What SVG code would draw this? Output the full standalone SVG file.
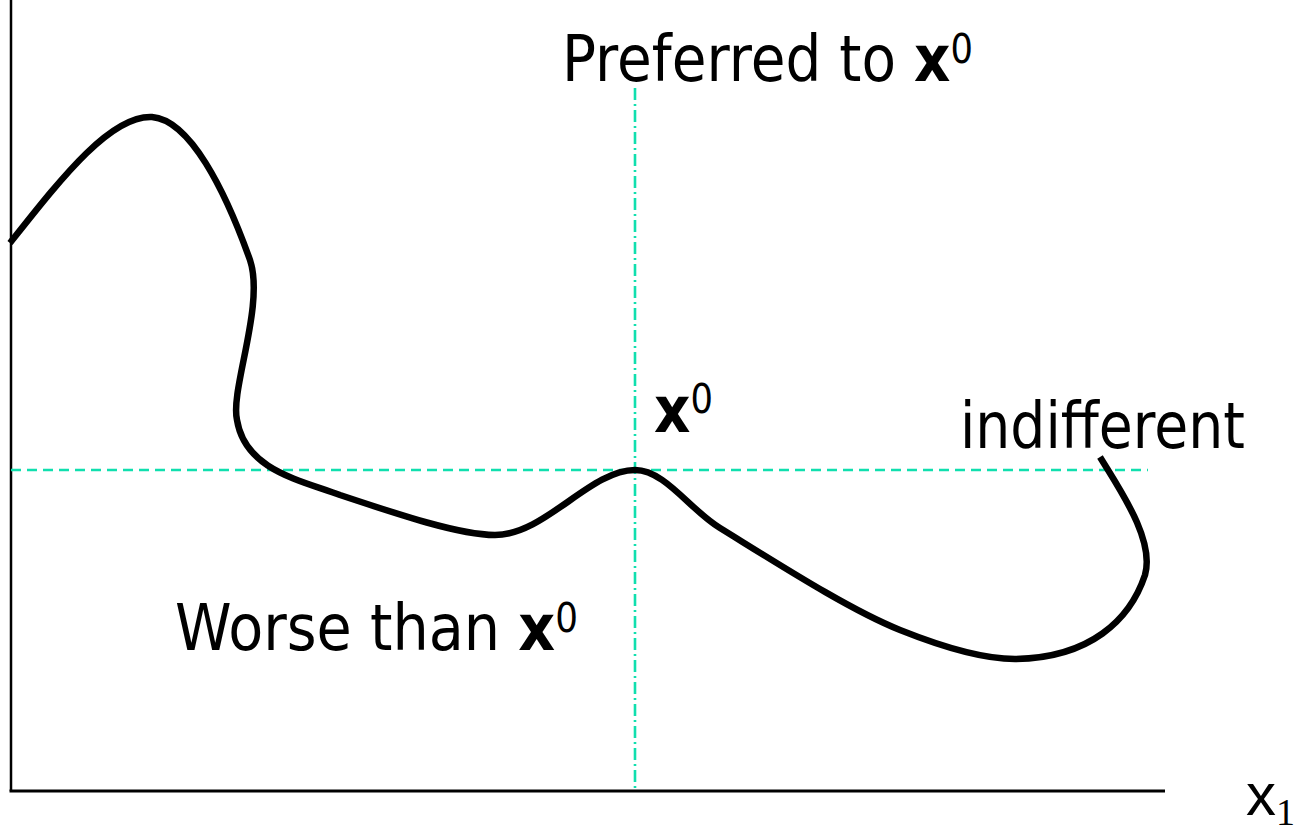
<svg xmlns="http://www.w3.org/2000/svg" width="1301" height="830" viewBox="0 0 1301 830">
<style>
.t{font-family:Tahoma,"DejaVu Sans",Verdana,sans-serif;font-size:64px;fill:#000}
.b{font-weight:bold}
.sup{font-size:40px;font-weight:normal}
.guide{stroke:#10dfae;stroke-width:2.6;fill:none}
.axis{stroke:#000;fill:none}
</style>
<rect width="1301" height="830" fill="#fff"/>
<g id="axes">
<line class="axis" x1="11" y1="0" x2="11" y2="791" stroke-width="2.5"/>
<line class="axis" x1="9.5" y1="791" x2="1165" y2="791" stroke-width="3"/>
</g>
<g id="connectors">
<line class="guide" x1="635" y1="88" x2="635" y2="791" stroke-dasharray="12,4,2,4"/>
<line class="guide" x1="11" y1="470" x2="1148" y2="470" stroke-dasharray="10,6"/>
</g>
<g id="curve">
<path d="M10,243 C60,180 110,115 152,117 C190,120 225,190 250,260 C265,305 230,390 237,420 C245,470 300,480 340,495 C400,515 460,535 495,535 C545,535 590,470 635,470 C665,470 690,510 720,528 C780,565 850,610 900,630 C955,652 990,659 1015,659 C1090,658 1130,620 1145,575 C1155,540 1120,490 1100,457" fill="none" stroke="#000" stroke-width="6.5"/>
</g>
<g id="label-preferred">
<text class="t" x="562" y="81" textLength="411" lengthAdjust="spacingAndGlyphs">Preferred to <tspan class="b">x</tspan><tspan class="sup" dy="-18">0</tspan></text>
</g>
<g id="label-x0">
<text class="t" x="654" y="432" textLength="59" lengthAdjust="spacingAndGlyphs"><tspan class="b">x</tspan><tspan class="sup" dy="-19">0</tspan></text>
</g>
<g id="label-indifferent">
<text class="t" x="960" y="448" textLength="285" lengthAdjust="spacingAndGlyphs">indifferent</text>
</g>
<g id="label-worse">
<text class="t" x="175" y="650" textLength="403" lengthAdjust="spacingAndGlyphs">Worse than <tspan class="b">x</tspan><tspan class="sup" dy="-18">0</tspan></text>
</g>
<g id="label-x1">
<text x="1246" y="815" style="font-family:'Liberation Sans',Arial,sans-serif;font-size:60px">x<tspan dy="10" style="font-family:'Liberation Serif','Times New Roman',serif;font-size:38px">1</tspan></text>
</g>
</svg>
